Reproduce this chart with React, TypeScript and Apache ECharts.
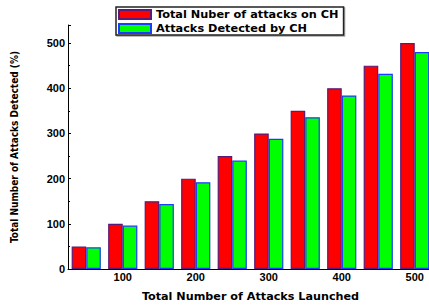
import React, { useEffect, useRef } from "react";
import * as echarts from "echarts";

const categories = ["50", "100", "150", "200", "250", "300", "350", "400", "450", "500"];
const totalAttacks = [50, 100, 150, 200, 250, 300, 350, 400, 450, 500];
const detectedAttacks = [48, 96, 144, 192, 240, 288, 336, 384, 432, 480];
const seriesNames = ["Total Nuber of attacks on CH", "Attacks Detected by CH"];
const xTitle = "Total Number of Attacks Launched";
const yTitle = "Total Number of Attacks Detected (%)";

const wideFont = "'DejaVu Sans', Verdana, sans-serif";
const narrowFont = "'DejaVu Sans Condensed', 'Liberation Sans Narrow', sans-serif";

export default function App() {
  const ref = useRef<HTMLDivElement>(null);
  useEffect(() => {
    if (!ref.current) return;
    const chart = echarts.init(ref.current, null, { renderer: "svg" });
    const tickFont = { fontFamily: "'Liberation Sans', Arial, sans-serif", fontWeight: "bold" as const, fontSize: 11, color: "#000" };
    chart.setOption({
      animation: false,
      backgroundColor: "#fff",
      grid: { left: 68, top: 25, bottom: 39, right: 7, containLabel: false },
      legend: {
        orient: "vertical",
        left: 116,
        top: 7,
        icon: "rect",
        itemWidth: 32,
        itemHeight: 9,
        itemGap: 3,
        padding: [2, 5, 1, 2],
        borderColor: "#222",
        borderWidth: 1.5,
        backgroundColor: "#fff",
        shadowColor: "rgba(0,0,0,0.35)",
        shadowOffsetX: 1,
        shadowOffsetY: 1,
        shadowBlur: 1,
        textStyle: { fontFamily: wideFont, fontWeight: "bold", fontSize: 11.3, color: "#000" },
        data: seriesNames,
      },
      xAxis: {
        type: "category",
        data: categories,
        name: xTitle,
        nameLocation: "middle",
        nameGap: 22,
        nameTextStyle: { fontFamily: wideFont, fontWeight: "bold", fontSize: 11.2, color: "#000" },
        axisLine: { show: true, lineStyle: { color: "#000", width: 1 } },
        axisTick: { show: false },
        axisLabel: { ...tickFont, margin: 2, interval: (i: number) => i % 2 === 1 },
      },
      yAxis: {
        type: "value",
        min: 0,
        max: 540,
        interval: 100,
        name: yTitle,
        nameLocation: "middle",
        nameGap: 49,
        nameTextStyle: { fontFamily: narrowFont, fontWeight: "bold", fontSize: 10, color: "#000" },
        axisLine: { show: true, lineStyle: { color: "#000", width: 1 } },
        axisTick: { show: true, inside: true, length: 3, lineStyle: { color: "#000" } },
        minorTick: { show: true, splitNumber: 2, length: 2, lineStyle: { color: "#000" } },
        splitLine: { show: false },
        axisLabel: { ...tickFont, margin: 3, showMaxLabel: false },
      },
      series: [
        {
          name: seriesNames[0],
          type: "bar",
          data: totalAttacks,
          barGap: "0%",
          barCategoryGap: "20%",
          itemStyle: { color: "#ff0000", borderColor: "#5a1a78", borderWidth: 1.2 },
        },
        {
          name: seriesNames[1],
          type: "bar",
          data: detectedAttacks,
          itemStyle: { color: "#00ff00", borderColor: "#1a3cff", borderWidth: 1.2 },
        },
      ],
    });
    return () => chart.dispose();
  }, []);
  return (
    <div style={{ position: "absolute", left: 0, top: 0, width: 429, height: 308, overflow: "hidden" }}>
      <div ref={ref} style={{ width: 440, height: 308 }} />
    </div>
  );
}
